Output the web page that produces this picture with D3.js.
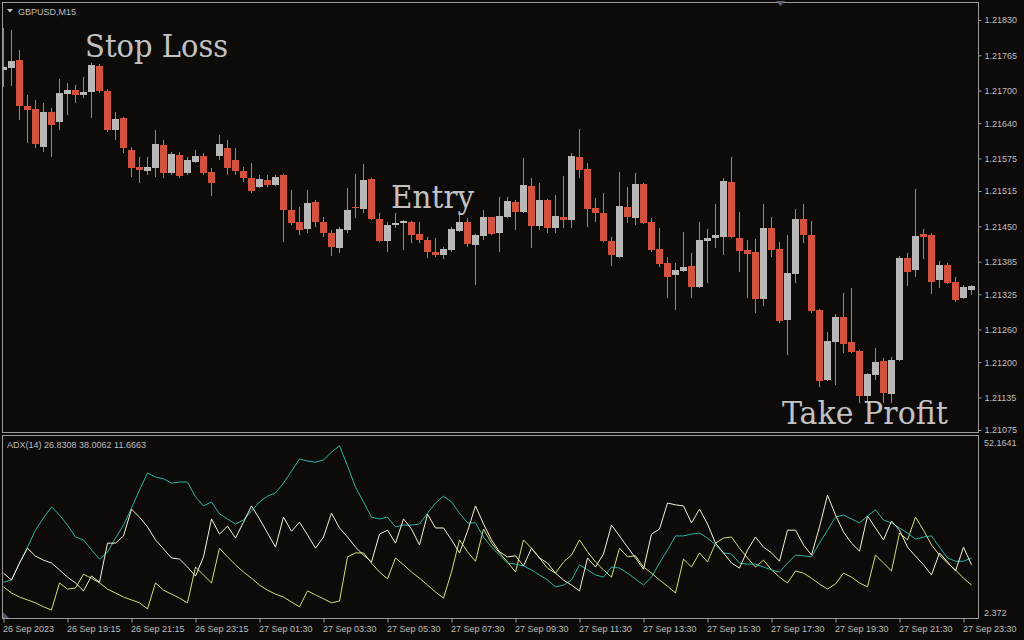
<!DOCTYPE html>
<html><head><meta charset="utf-8">
<script src="https://cdn.jsdelivr.net/npm/d3@7"></script>
<style>html,body{margin:0;padding:0;background:#0d0b0a;overflow:hidden}</style>
</head><body><svg id="c" width="1024" height="640"></svg>
<script>
// ---- Data (GBPUSD M15) ----
const open = [
1.21738,1.21743,1.21756,1.21672,1.21666,1.21596,1.21661,1.21642,1.21694,1.21701,
1.21692,1.21697,1.21745,1.21699,1.21627,1.21650,1.21591,1.21559,1.21552,1.21558,
1.21600,1.21548,1.21581,1.21548,1.21569,1.21580,1.21550,1.21580,1.21594,1.21572,
1.21552,1.21539,1.21523,1.21535,1.21526,1.21545,1.21480,1.21458,1.21445,1.21495,
1.21458,1.21438,1.21410,1.21443,1.21486,1.21482,1.21537,1.21464,1.21423,1.21453,
1.21456,1.21458,1.21436,1.21425,1.21403,1.21397,1.21407,1.21441,1.21458,1.21416,
1.21432,1.21467,1.21438,1.21467,1.21495,1.21476,1.21524,1.21451,1.21499,1.21447,
1.21467,1.21462,1.21578,1.21556,1.21484,1.21475,1.21423,1.21395,1.21486,1.21465,
1.21528,1.21458,1.21408,1.21383,1.21360,1.21368,1.21377,1.21338,1.21423,1.21429,
1.21430,1.21532,1.21429,1.21407,1.21403,1.21316,1.21447,1.21408,1.21278,1.21362,
1.21464,1.21434,1.21296,1.21167,1.21237,1.21283,1.21237,1.21221,1.21138,1.21176,
1.21202,1.21141,1.21204,1.21392,1.21370,1.21436,1.21434,1.21351,1.21379,1.21348,
1.21318,1.21333];
const high = [
1.21815,1.21812,1.21775,1.21692,1.21683,1.21677,1.21668,1.21721,1.21714,1.21710,
1.21725,1.21751,1.21749,1.21703,1.21661,1.21651,1.21596,1.21578,1.21578,1.21627,
1.21609,1.21587,1.21587,1.21578,1.21591,1.21585,1.21558,1.21618,1.21609,1.21594,
1.21559,1.21567,1.21545,1.21545,1.21545,1.21546,1.21517,1.21486,1.21517,1.21499,
1.21467,1.21443,1.21449,1.21521,1.21546,1.21565,1.21539,1.21475,1.21458,1.21475,
1.21461,1.21460,1.21458,1.21430,1.21429,1.21412,1.21449,1.21471,1.21465,1.21436,
1.21480,1.21468,1.21504,1.21504,1.21499,1.21576,1.21539,1.21530,1.21500,1.21508,
1.21543,1.21585,1.21629,1.21567,1.21502,1.21511,1.21430,1.21550,1.21523,1.21548,
1.21530,1.21465,1.21447,1.21394,1.21383,1.21440,1.21401,1.21458,1.21445,1.21491,
1.21539,1.21578,1.21476,1.21425,1.21427,1.21491,1.21467,1.21421,1.21434,1.21482,
1.21491,1.21460,1.21298,1.21255,1.21289,1.21327,1.21337,1.21223,1.21180,1.21226,
1.21208,1.21209,1.21395,1.21401,1.21519,1.21445,1.21437,1.21386,1.21383,1.21357,
1.21342,1.21342];
const low = [
1.21707,1.21709,1.21646,1.21604,1.21594,1.21587,1.21578,1.21627,1.21655,1.21677,
1.21686,1.21650,1.21696,1.21624,1.21609,1.21585,1.21541,1.21530,1.21545,1.21541,
1.21539,1.21545,1.21539,1.21545,1.21567,1.21545,1.21506,1.21572,1.21545,1.21545,
1.21532,1.21511,1.21521,1.21523,1.21524,1.21421,1.21453,1.21434,1.21438,1.21449,
1.21430,1.21395,1.21401,1.21438,1.21465,1.21475,1.21462,1.21421,1.21403,1.21447,
1.21407,1.21419,1.21419,1.21392,1.21394,1.21390,1.21403,1.21440,1.21412,1.21342,
1.21425,1.21434,1.21403,1.21465,1.21443,1.21475,1.21410,1.21443,1.21438,1.21438,
1.21447,1.21447,1.21539,1.21449,1.21458,1.21421,1.21377,1.21392,1.21456,1.21453,
1.21454,1.21403,1.21375,1.21318,1.21296,1.21366,1.21318,1.21336,1.21346,1.21410,
1.21397,1.21428,1.21366,1.21318,1.21290,1.21303,1.21394,1.21272,1.21213,1.21346,
1.21419,1.21290,1.21154,1.21165,1.21158,1.21217,1.21217,1.21125,1.21125,1.21167,
1.21125,1.21125,1.21202,1.21340,1.21357,1.21390,1.21325,1.21337,1.21344,1.21311,
1.21316,1.21324];
const close = [
1.21744,1.21755,1.21672,1.21664,1.21602,1.21661,1.21637,1.21696,1.21701,1.21692,
1.21697,1.21747,1.21699,1.21627,1.21648,1.21594,1.21558,1.21554,1.21559,1.21602,
1.21548,1.21583,1.21543,1.21572,1.21580,1.21548,1.21530,1.21602,1.21558,1.21552,
1.21539,1.21515,1.21537,1.21526,1.21541,1.21480,1.21456,1.21443,1.21493,1.21458,
1.21438,1.21412,1.21445,1.21480,1.21484,1.21535,1.21464,1.21423,1.21453,1.21456,
1.21460,1.21434,1.21425,1.21403,1.21397,1.21408,1.21445,1.21458,1.21418,1.21434,
1.21467,1.21436,1.21469,1.21497,1.21476,1.21526,1.21451,1.21499,1.21447,1.21469,
1.21462,1.21580,1.21554,1.21482,1.21475,1.21423,1.21397,1.21488,1.21467,1.21528,
1.21456,1.21407,1.21381,1.21357,1.21370,1.21375,1.21338,1.21425,1.21429,1.21434,
1.21534,1.21430,1.21405,1.21399,1.21316,1.21447,1.21407,1.21276,1.21364,1.21464,
1.21434,1.21294,1.21165,1.21239,1.21283,1.21233,1.21219,1.21138,1.21178,1.21200,
1.21143,1.21204,1.21392,1.21366,1.21432,1.21430,1.21348,1.21379,1.21346,1.21314,
1.21338,1.21340];

const adx = [
12.0,12.6,17.3,21.7,26.4,29.8,32.8,30.6,27.8,24.5,
23.7,20.9,18.4,20.3,24.2,27.8,32.5,37.5,42.2,41.1,
40.6,39.4,39.7,39.7,35.6,33.1,34.2,30.9,29.5,28.1,
29.2,31.7,34.2,35.8,36.7,39.4,42.7,46.1,45.5,45.2,
45.8,48.0,49.7,44.2,38.3,34.2,30.0,29.5,30.0,27.3,
27.8,27.8,28.1,31.1,33.9,35.8,34.2,31.1,28.4,28.4,
24.5,21.7,19.5,17.3,17.0,16.5,15.4,14.0,12.6,10.7,
11.2,12.6,16.8,15.4,14.0,13.4,16.2,15.9,14.5,12.9,
11.2,13.4,17.3,20.9,24.8,24.8,25.3,25.6,24.2,22.3,
20.1,19.8,17.3,17.0,17.0,16.2,15.4,14.8,17.3,19.5,
19.3,19.0,22.8,26.4,30.0,30.6,29.5,28.4,30.3,32.0,
29.2,28.4,27.0,25.6,23.9,24.5,24.8,21.7,18.7,17.8,
17.8,18.7];
const plusDI = [
14.5,12.6,17.3,21.4,19.2,18.1,17.3,15.4,13.4,11.8,
9.6,13.7,12.0,22.8,22.8,24.8,32.2,30.0,27.3,23.7,
21.2,18.7,18.4,16.2,13.7,19.0,29.5,25.3,27.5,24.2,
28.6,33.1,29.5,25.6,21.7,30.0,26.1,28.6,25.1,21.4,
24.5,31.1,27.0,24.5,21.7,19.5,17.6,25.3,26.4,22.8,
29.5,26.7,22.3,30.8,27.0,27.0,23.7,20.1,26.1,33.1,
28.1,23.7,20.4,19.0,19.3,16.5,21.4,18.7,17.3,14.5,
12.6,11.2,9.6,18.7,16.2,19.8,27.8,24.8,21.7,18.7,
15.6,25.3,26.7,33.9,33.4,33.1,28.4,32.2,28.1,22.8,
20.1,17.3,15.9,20.9,24.5,21.7,20.1,17.8,26.4,26.4,
22.3,19.5,27.3,36.1,30.6,25.9,22.8,20.6,30.3,27.0,
23.7,28.9,26.4,21.7,19.2,16.8,14.0,20.1,17.6,15.1,
21.7,16.8];
const minusDI = [
10.7,9.0,7.9,7.1,6.3,5.2,4.3,11.8,10.1,10.4,
14.2,13.1,11.8,10.1,9.0,7.9,7.1,6.3,4.6,11.8,
9.8,8.7,7.6,6.3,16.2,14.0,11.8,21.4,19.0,16.8,
14.8,13.1,11.2,9.8,8.7,7.9,6.5,5.2,9.6,8.5,
7.4,6.3,6.8,19.0,20.1,20.1,17.3,14.8,12.9,18.7,
16.8,14.8,13.1,11.2,9.3,7.6,14.8,23.7,20.4,17.8,
26.7,22.8,20.1,17.6,14.8,23.7,21.4,18.7,15.9,14.5,
17.6,19.5,23.7,20.4,17.6,15.4,13.4,21.4,19.0,19.3,
16.2,14.5,12.6,10.9,9.0,18.4,16.2,20.1,17.6,22.8,
24.2,24.5,21.4,18.7,16.2,18.1,15.4,13.4,11.8,15.1,
14.5,13.1,11.5,10.1,11.5,14.5,13.4,11.8,10.7,19.5,
17.3,15.1,25.6,23.7,30.0,26.4,22.3,19.5,17.3,15.4,
13.1,11.2];

const timeLabels = ["26 Sep 2023","26 Sep 19:15","26 Sep 21:15","26 Sep 23:15","27 Sep 01:30",
  "27 Sep 03:30","27 Sep 05:30","27 Sep 07:30","27 Sep 09:30","27 Sep 11:30","27 Sep 13:30",
  "27 Sep 15:30","27 Sep 17:30","27 Sep 19:30","27 Sep 21:30","27 Sep 23:30"];
const timeTickBars = [0,8,16,24,32,40,48,56,64,72,80,88,96,104,112,120];
const priceTicks = [1.21830,1.21765,1.21700,1.21640,1.21575,1.21515,1.21450,1.21385,1.21325,1.21260,1.21200,1.21135,1.21075];
const adxMax = 52.1641, adxMin = 2.372;
const annotations = [
  {text:"Stop Loss", bar:10.2, price:1.21762, len:143},
  {text:"Entry", bar:48.45, price:1.21484, len:83},
  {text:"Take Profit", bar:97.3, price:1.21086, len:166}
];

// ---- Drawing ----
const W = 1024, H = 640;
const BG = "#0d0b0a", FRAME = "#9a9a9a", TXT = "#bdbdbd";
const BULL = "#b8b8b8", BEAR = "#d4523d", WICK = "#8a8a8a";
const FONT = "'Liberation Sans', Arial, sans-serif";

const svg = d3.select("#c");
svg.append("rect").attr("width", W).attr("height", H).attr("fill", BG);

const n = open.length;
const idx = d3.range(n);
const x = d3.scaleLinear().domain([0, n - 1]).range([3.5, 3.5 + 8 * (n - 1)]);
const y = d3.scaleLinear().domain([1.21075, 1.21830]).range([430, 20]);
const ya = d3.scaleLinear().domain([adxMin, adxMax]).range([617, 437]);

const defs = svg.append("defs");
defs.append("clipPath").attr("id", "clipMain").append("rect").attr("x", 3).attr("y", 3).attr("width", 975).attr("height", 429);
defs.append("clipPath").attr("id", "clipAdx").append("rect").attr("x", 3).attr("y", 436).attr("width", 975).attr("height", 182);

// candles
const cg = svg.append("g").attr("clip-path", "url(#clipMain)");
cg.selectAll("line.wick").data(idx).join("line").attr("class", "wick")
  .attr("x1", i => x(i)).attr("x2", i => x(i))
  .attr("y1", i => Math.round(y(high[i]))).attr("y2", i => Math.round(y(low[i])))
  .attr("stroke", WICK).attr("stroke-width", 1);
cg.selectAll("rect.body").data(idx).join("rect").attr("class", "body")
  .attr("x", i => x(i) - 3.5).attr("width", 7)
  .attr("y", i => Math.round(y(Math.max(open[i], close[i]))))
  .attr("height", i => Math.max(1, Math.round(Math.abs(y(open[i]) - y(close[i])))))
  .attr("fill", i => close[i] >= open[i] ? BULL : BEAR);

// annotations
svg.append("g").selectAll("text").data(annotations).join("text")
  .attr("x", d => x(d.bar)).attr("y", d => y(d.price))
  .attr("textLength", d => d.len).attr("lengthAdjust", "spacingAndGlyphs")
  .attr("font-family", "'DejaVu Serif', serif").attr("font-size", 32)
  .attr("fill", "#c2c2c2").text(d => d.text);

// ADX lines
const ag = svg.append("g").attr("clip-path", "url(#clipAdx)");
const series = [
  {vals: minusDI, color: "#d3de78"},
  {vals: adx, color: "#2db3a3"},
  {vals: plusDI, color: "#f3f0d6"}
];
series.forEach(s => {
  ag.append("path").datum(s.vals)
    .attr("d", d3.line().x((d, i) => x(i)).y(d => ya(d)))
    .attr("fill", "none").attr("stroke", s.color).attr("stroke-width", 1);
});

// frames
svg.append("rect").attr("x", 2.5).attr("y", 2.5).attr("width", 976).attr("height", 430)
  .attr("fill", "none").attr("stroke", FRAME);
svg.append("rect").attr("x", 2.5).attr("y", 435.5).attr("width", 976).attr("height", 183)
  .attr("fill", "none").attr("stroke", FRAME);

// price axis
const pa = svg.append("g").attr("transform", "translate(978.5,0)")
  .call(d3.axisRight(y).tickValues(priceTicks).tickSize(3).tickPadding(3).tickFormat(d3.format(".5f")));
pa.select(".domain").remove();
pa.selectAll("line").attr("stroke", FRAME);
pa.selectAll("text").attr("fill", TXT).attr("font-family", FONT).attr("font-size", 9);

// ADX scale labels
svg.append("text").attr("x", 984).attr("y", ya(adxMax) + 9).attr("fill", TXT)
  .attr("font-family", FONT).attr("font-size", 9).text(String(adxMax));
svg.append("text").attr("x", 984).attr("y", ya(adxMin) - 1).attr("fill", TXT)
  .attr("font-family", FONT).attr("font-size", 9).text(String(adxMin));

// time axis
const ta = svg.append("g").attr("transform", "translate(0,618.5)")
  .call(d3.axisBottom(x).tickValues(timeTickBars).tickSize(4).tickPadding(3)
    .tickFormat((d, i) => timeLabels[i]));
ta.select(".domain").remove();
ta.selectAll("line").attr("stroke", FRAME);
ta.selectAll("text").attr("fill", TXT).attr("font-family", FONT).attr("font-size", 9)
  .attr("text-anchor", "start").attr("x", -1);

// headers
svg.append("path").attr("d", "M7,9L13,9L10,12.5Z").attr("fill", "#c8c8c8");
svg.append("text").attr("x", 18).attr("y", 14.5).attr("fill", TXT)
  .attr("font-family", FONT).attr("font-size", 9).text("GBPUSD,M15");
svg.append("text").attr("x", 7).attr("y", 448).attr("fill", TXT)
  .attr("font-family", FONT).attr("font-size", 9).text("ADX(14) 26.8308 38.0062 11.6663");

// markers
svg.append("path").attr("d", "M776,1L785,1L780.5,6Z").attr("fill", "#5d6478");
svg.append("path").attr("d", "M3,612L3,618L9,618Z").attr("fill", "#4f566d");
</script></body></html>
